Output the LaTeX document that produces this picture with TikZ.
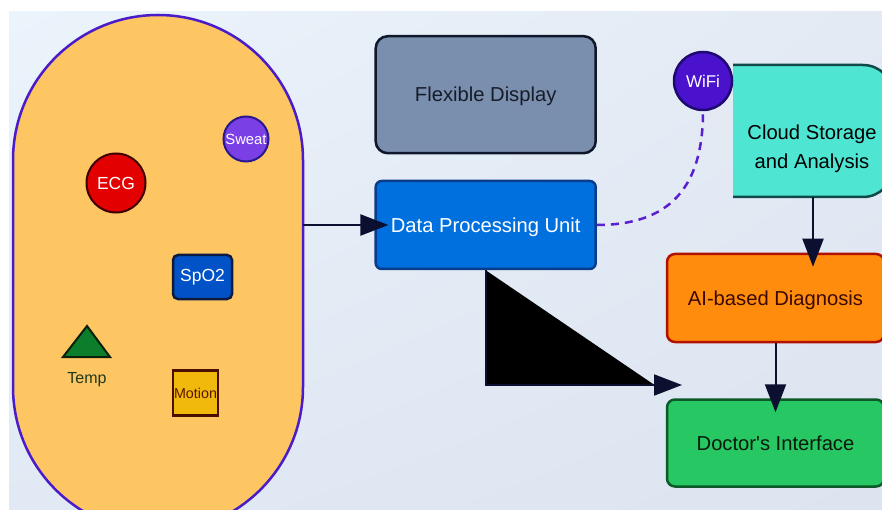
\documentclass[tikz,border=0pt]{standalone}
\usepackage{fontspec}
\setmainfont{Liberation Sans}
\usepackage{xcolor}
\usetikzlibrary{arrows.meta, positioning, shapes.geometric, shadings}

\definecolor{bandfill}{HTML}{FDC662}
\definecolor{bandline}{HTML}{4A1BC8}
\definecolor{ecgfill}{HTML}{E30000}
\definecolor{ecgline}{HTML}{3D0000}
\definecolor{sweatfill}{HTML}{7A40E6}
\definecolor{sweatline}{HTML}{2A1890}
\definecolor{spofill}{HTML}{0052C6}
\definecolor{spoline}{HTML}{0A1A40}
\definecolor{tempfill}{HTML}{0B7D2B}
\definecolor{templine}{HTML}{0A200A}
\definecolor{temptext}{HTML}{1E3A1E}
\definecolor{motionfill}{HTML}{F0B90B}
\definecolor{motionline}{HTML}{4A0F00}
\definecolor{motiontext}{HTML}{5A1500}
\definecolor{flexfill}{HTML}{7A8FAD}
\definecolor{flexline}{HTML}{0F172A}
\definecolor{flextext}{HTML}{161C2A}
\definecolor{dpufill}{HTML}{0070DF}
\definecolor{dpuline}{HTML}{0A3C8C}
\definecolor{wififill}{HTML}{4A12CC}
\definecolor{wifiline}{HTML}{1E0A70}
\definecolor{cloudfill}{HTML}{4EE6D3}
\definecolor{cloudline}{HTML}{0E4A4A}
\definecolor{aifill}{HTML}{FF8C0C}
\definecolor{ailine}{HTML}{B21000}
\definecolor{aitext}{HTML}{3A0A00}
\definecolor{docfill}{HTML}{27C764}
\definecolor{docline}{HTML}{0C5A28}
\definecolor{doctext}{HTML}{0A1A0A}
\definecolor{arrowc}{HTML}{0B1030}
\definecolor{radioc}{HTML}{5A1FD0}
\definecolor{bgul}{HTML}{EBF3FB}
\definecolor{bgur}{HTML}{E3EAF4}
\definecolor{bgll}{HTML}{E1E9F4}
\definecolor{bglr}{HTML}{DCE4F0}

\begin{document}
\begin{tikzpicture}[x=1pt, y=-1pt,
    unitbox/.style={draw, line width=2.5pt, rounded corners=8pt, inner sep=0pt,
        minimum width=220pt, text height=14.5pt, text depth=0pt,
        font=\fontsize{20.2}{29}\selectfont},
    sensor/.style={draw, line width=2pt, inner sep=0pt, text=white},
    link/.style={draw=arrowc, line width=2pt, shorten >=-14pt,
        -{Triangle[length=28pt, width=21pt]}},
    radio/.style={draw=radioc, line width=2.5pt, dash pattern=on 8pt off 6pt}
]
    \useasboundingbox (0,0) rectangle (882,510);
    \clip (0,0) rectangle (882,510);

    % Background
    \shade[upper left=bgul, upper right=bgur, lower left=bgll, lower right=bglr]
        (9,12) rectangle (882,510);

    % Wearable band
    \node[draw=bandline, fill=bandfill, line width=2.5pt, minimum width=290pt,
          minimum height=517pt, rounded corners=145pt, inner sep=0pt, outer sep=0pt]
          (band) at (158,273.5) {};

    % Sensors
    \node[sensor, circle, fill=ecgfill, draw=ecgline, minimum size=59pt,
          font=\fontsize{17.5}{20}\selectfont] (ecg) at (116,183) {ECG};
    \node[sensor, circle, fill=sweatfill, draw=sweatline, minimum size=45pt,
          font=\fontsize{14.8}{17}\selectfont] (sweat) at (246,139) {Sweat};
    \node[sensor, rectangle, rounded corners=5pt, fill=spofill, draw=spoline,
          line width=2.5pt, minimum width=59pt, minimum height=44pt,
          font=\fontsize{17.5}{20}\selectfont] (spo) at (202.5,277) {SpO2};
    \filldraw[fill=tempfill, draw=templine, line width=2pt]
        (87,326) -- (110,357) -- (63,357) -- cycle;
    \node[text=temptext, font=\fontsize{16}{18}\selectfont] (temp) at (87,380) {Temp};
    \node[draw=motionline, fill=motionfill, line width=2.5pt, minimum size=45pt,
          inner sep=0pt, text=motiontext, font=\fontsize{14.3}{16}\selectfont]
          (motion) at (195.5,393) {Motion};

    % Display and processing
    \node[unitbox, fill=flexfill, draw=flexline, minimum height=117pt,
          rounded corners=12pt, text=flextext] (flex) at (485.7,94.7) {Flexible Display};
    \node[unitbox, fill=dpufill, draw=dpuline, minimum height=88pt,
          rounded corners=6pt, text=white] (dpu) at (485.7,225) {Data Processing Unit};

    % Cloud side
    \node[minimum width=160pt, minimum height=132pt, inner sep=0pt, outer sep=0pt]
          (cloud) at (813,131) {};
    \filldraw[fill=cloudfill, draw=cloudline, line width=2.5pt, rounded corners=30pt]
        (cloud.north west) -| (cloud.south east) -- (cloud.south west);
    \node[align=center, font=\fontsize{20.2}{29}\selectfont] (cloudtext) at (812,148.5)
          {Cloud Storage\\and Analysis};
    \node[sensor, circle, fill=wififill, draw=wifiline, line width=2.5pt,
          minimum size=58pt, font=\fontsize{17}{20}\selectfont] (wifi) at (703,81) {WiFi};

    \node[unitbox, fill=aifill, draw=ailine, minimum width=217pt, minimum height=88pt,
          text=aitext] (ai) at (775.5,298) {AI-based Diagnosis};
    \node[unitbox, fill=docfill, draw=docline, minimum width=217pt, minimum height=87pt,
          text=doctext] (doc) at (775.5,443) {Doctor\textquotesingle s Interface};

    % Connections
    \coordinate (docin) at (668,385);
    \draw[link] (band.east |- dpu.west) -- (dpu.west);
    \draw[link, fill=black] (dpu.south) |- (docin);
    \draw[radio] (dpu.east) .. controls +(72,0) and +(0,77) .. (wifi.south);
    \draw[link] (cloud.south) -- (cloud.south |- ai.north);
    \draw[link] (ai.south) -- (doc.north);
\end{tikzpicture}
\end{document}
